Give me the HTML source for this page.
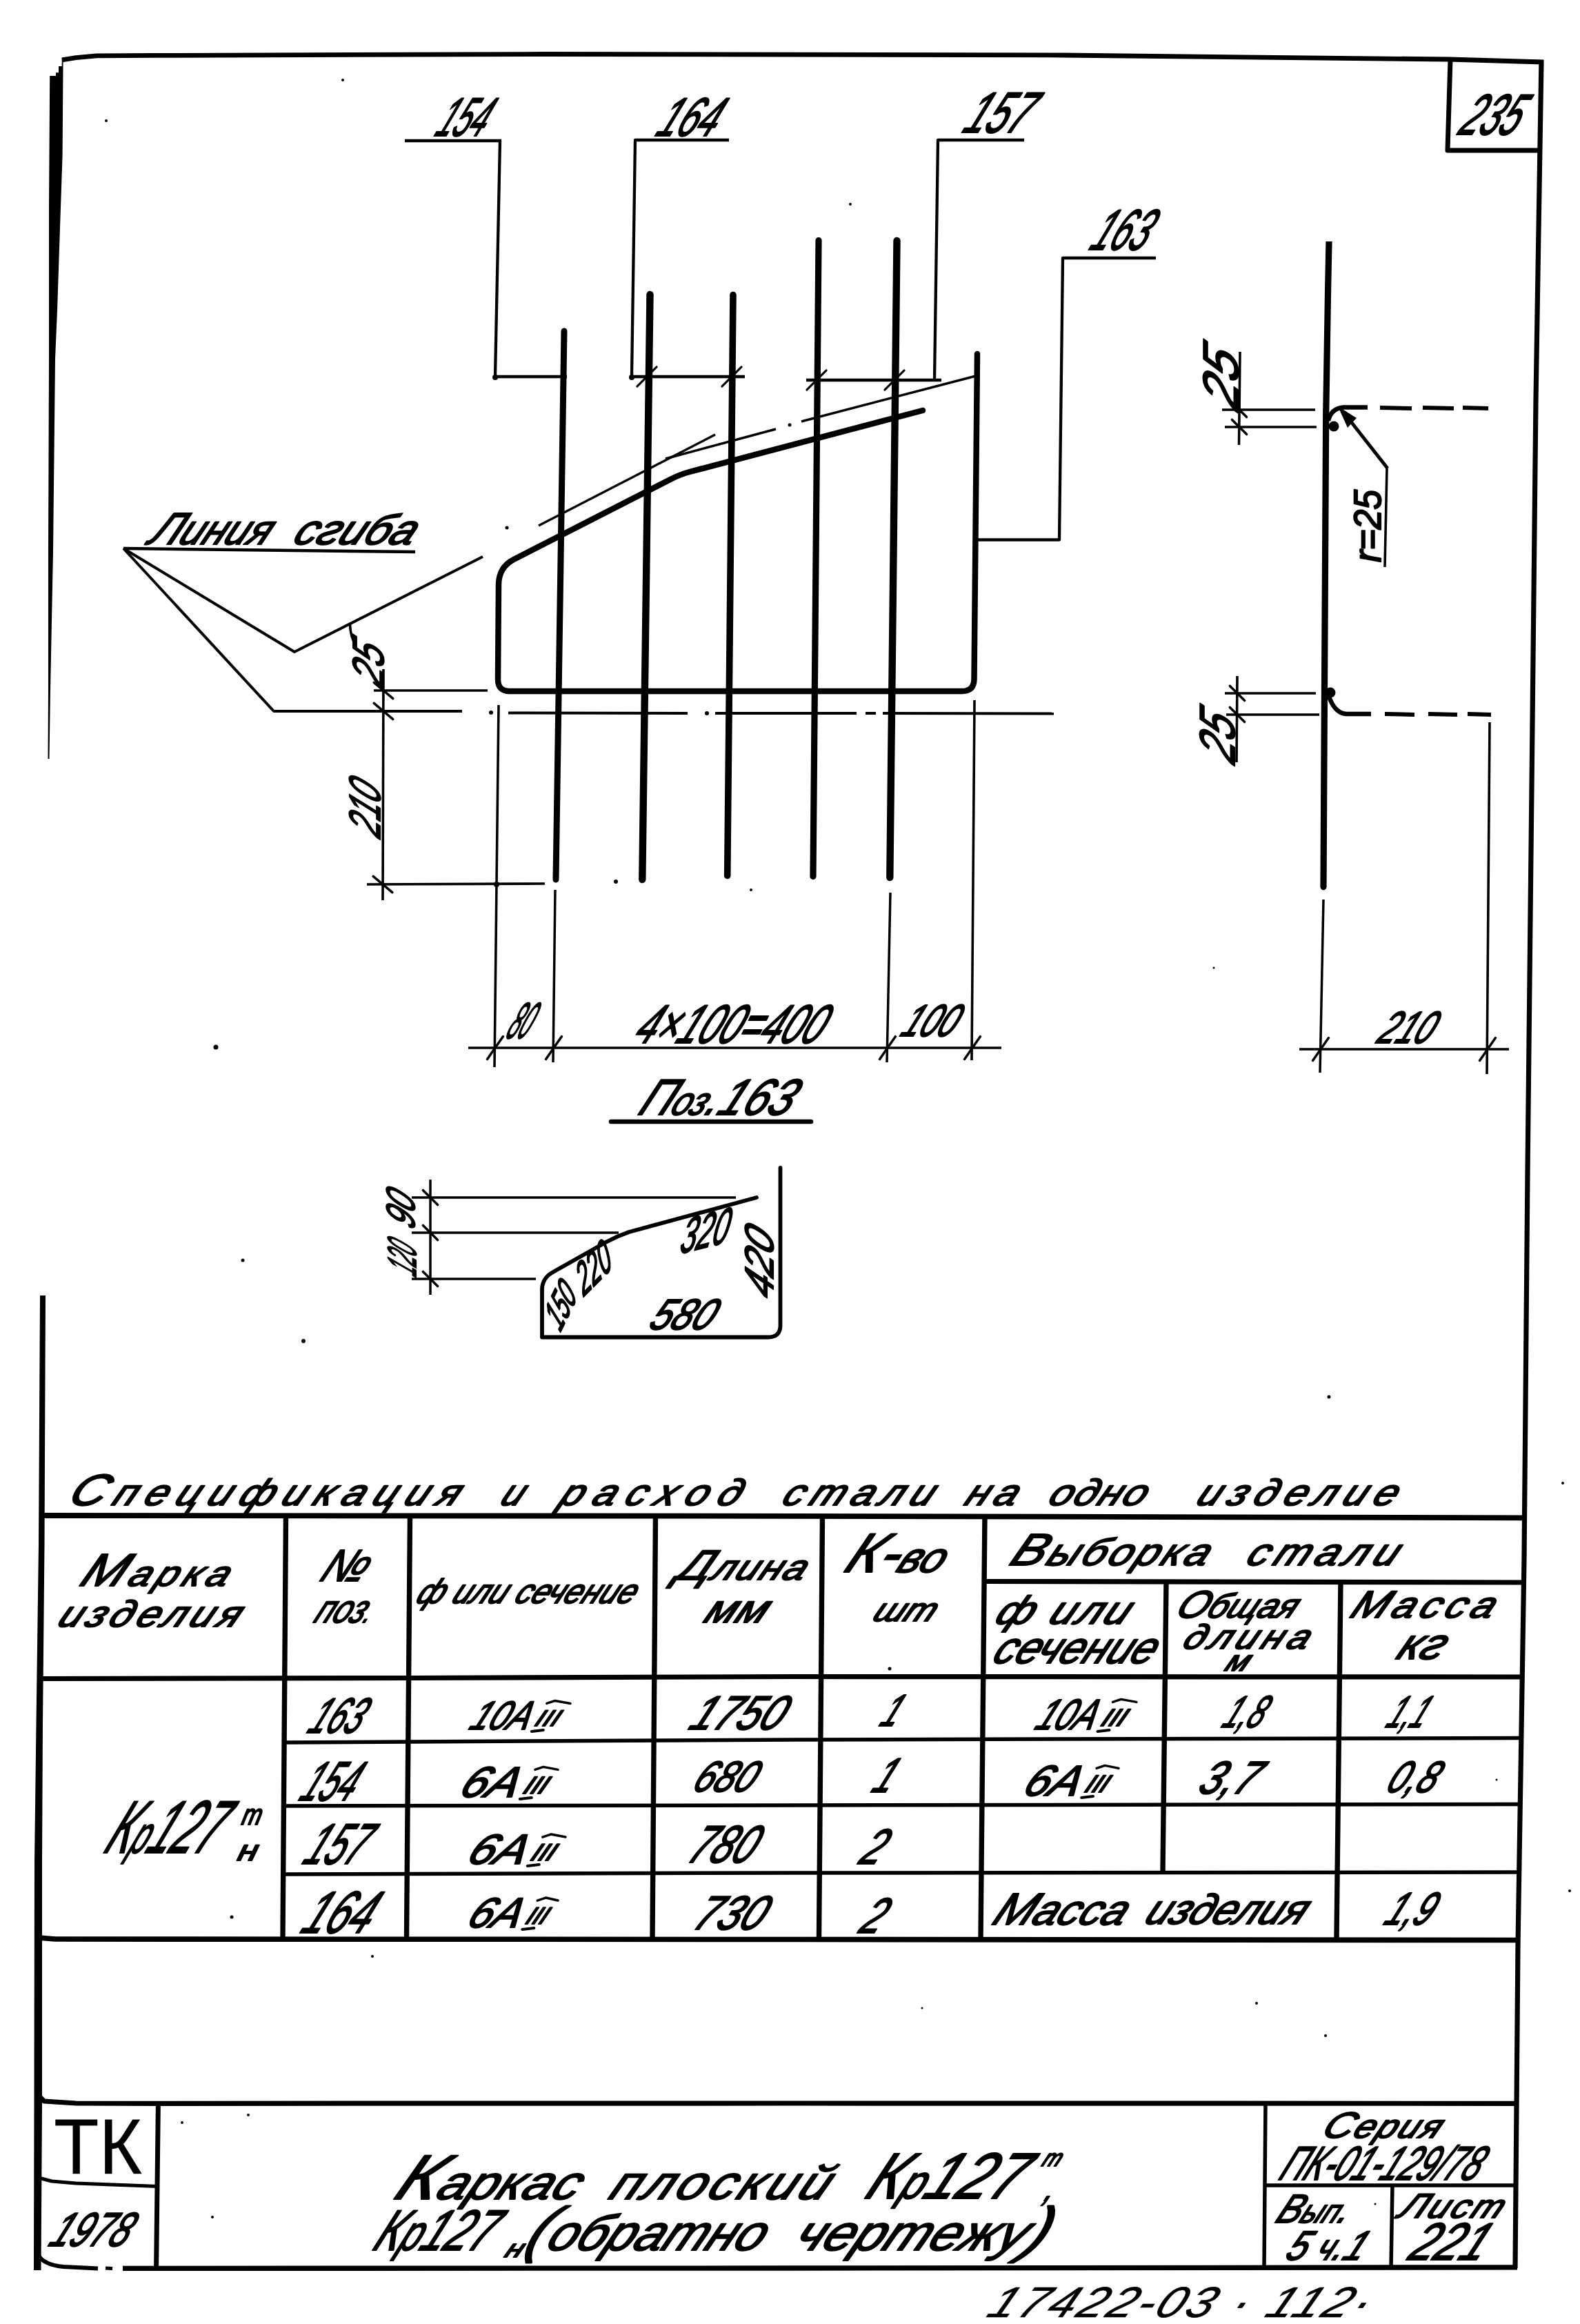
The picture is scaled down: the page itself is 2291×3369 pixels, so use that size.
<!DOCTYPE html>
<html lang="ru">
<head>
<meta charset="utf-8">
<title>Каркас плоский Кр127</title>
<style>
html,body{margin:0;padding:0;background:#fff;}
body{width:2291px;height:3369px;overflow:hidden;}
svg{display:block;filter:grayscale(1);}
svg polyline,svg path{fill:none;stroke:#000;}
.f{fill:#000;stroke:none;}
text{text-rendering:geometricPrecision;fill:#000;stroke:#000;stroke-width:2.2px;stroke-linejoin:round;white-space:pre;}
.t{font-family:"Liberation Sans",sans-serif;font-style:italic;}
.u{font-family:"Liberation Sans",sans-serif;font-style:normal;stroke-width:0.3px;}
.m{font-family:"Liberation Sans",sans-serif;font-style:italic;stroke-width:0.6px;}
</style>
</head>
<body>
<svg width="2291" height="3369" viewBox="0 0 2291 3369">
<polyline points="90,86.8 110,83.6 140,80.8 220,80.4 790,78.5 1540,80 2101,86 2238,90" stroke-width="6.8" stroke-linecap="butt" stroke-linejoin="round"/>
<polyline points="2235,87 2227,580 2221,1140 2215,1700 2210,2260 2201,2820 2197,3288" stroke-width="7.2" stroke-linecap="butt" stroke-linejoin="round"/>
<polygon class="f" points="89.7,84 91.6,84 90.6,225 87,330 83,450 80,520 77,800 73,1000 71.5,1100 69.5,1100 70,1000 70,800 71,520 71,300 72.2,110 81,110 81,105.2 85,105.2 85,96 89.7,96"/>
<polygon class="f" points="58,1878 66,1878 64.5,2240 62,2500 61,2700 61,3050 59.5,3291 49,3291 49.5,3050 50,2700 52.5,2500 56,2240"/>
<polyline points="178,3288.4 1150,3288 2200,3286.8" stroke-width="7.3" stroke-linecap="butt" stroke-linejoin="round"/>
<path d="M55,3268 Q62,3283 92,3286 L142,3288.5" stroke-width="6" stroke-linecap="butt" stroke-linejoin="round"/>
<polyline points="153,3288 163,3288.4" stroke-width="5" stroke-linecap="butt" stroke-linejoin="round"/>
<polyline points="56,3038 64,3046 110,3049 230,3049.3 1150,3049 2199,3049.3" stroke-width="7.2" stroke-linecap="butt" stroke-linejoin="round"/>
<polyline points="58,2197 1150,2197.8 2211,2200.3" stroke-width="7.8" stroke-linecap="butt" stroke-linejoin="round"/>
<polyline points="58,2433.5 600,2432.5 1150,2430.5 2207,2431" stroke-width="7.2" stroke-linecap="butt" stroke-linejoin="round"/>
<polyline points="56,2809 80,2811 1150,2811.5 2202,2812.5" stroke-width="7.6" stroke-linecap="butt" stroke-linejoin="round"/>
<polyline points="1427,2292.5 2209,2294" stroke-width="7.2" stroke-linecap="butt" stroke-linejoin="round"/>
<polyline points="414.5,2197 410,2810" stroke-width="7.4" stroke-linecap="butt" stroke-linejoin="round"/>
<polyline points="594.5,2197 589.5,2810" stroke-width="7.4" stroke-linecap="butt" stroke-linejoin="round"/>
<polyline points="950.5,2197 946,2810" stroke-width="7.4" stroke-linecap="butt" stroke-linejoin="round"/>
<polyline points="1192.5,2197 1187.5,2810" stroke-width="7.4" stroke-linecap="butt" stroke-linejoin="round"/>
<polyline points="1428,2197 1422,2810" stroke-width="7.4" stroke-linecap="butt" stroke-linejoin="round"/>
<polyline points="1691,2292 1686,2714" stroke-width="7.4" stroke-linecap="butt" stroke-linejoin="round"/>
<polyline points="1944,2292 1938,2810" stroke-width="7.4" stroke-linecap="butt" stroke-linejoin="round"/>
<polyline points="412,2526 1150,2522 2206,2519.5" stroke-width="5.5" stroke-linecap="butt" stroke-linejoin="round"/>
<polyline points="411,2618 1150,2617 2205,2615.5" stroke-width="5.5" stroke-linecap="butt" stroke-linejoin="round"/>
<polyline points="410,2717 1150,2715 2204,2714" stroke-width="5.5" stroke-linecap="butt" stroke-linejoin="round"/>
<polyline points="229.4,3049 226.6,3288" stroke-width="7" stroke-linecap="butt" stroke-linejoin="round"/>
<polyline points="56,3157 75,3162 110,3165 229,3169.5" stroke-width="5.2" stroke-linecap="butt" stroke-linejoin="round"/>
<polyline points="1835,3048 1833,3287" stroke-width="5.5" stroke-linecap="butt" stroke-linejoin="round"/>
<polyline points="1833,3168 2198,3168" stroke-width="5.5" stroke-linecap="butt" stroke-linejoin="round"/>
<polyline points="2019,3168 2017,3287" stroke-width="5.5" stroke-linecap="butt" stroke-linejoin="round"/>
<polyline points="2103,86 2099,218 2234,218" stroke-width="7" stroke-linecap="butt" stroke-linejoin="round"/>
<polyline points="818,480 806,1275" stroke-width="9" stroke-linecap="round" stroke-linejoin="round"/>
<polyline points="942.5,427 931.3,1275" stroke-width="10.4" stroke-linecap="round" stroke-linejoin="round"/>
<polyline points="1063,427.5 1054.7,1269.5" stroke-width="9.6" stroke-linecap="round" stroke-linejoin="round"/>
<polyline points="1187,348.5 1179,1270.5" stroke-width="9.2" stroke-linecap="round" stroke-linejoin="round"/>
<polyline points="1300.5,349 1290.3,1272" stroke-width="10.4" stroke-linecap="round" stroke-linejoin="round"/>
<path d="M1338,595 L1000,684 Q985,688 970,696 L745,811 Q723.5,822 723,847 L722,985 Q722,1002 739,1002 L1395,1002 Q1412,1002 1412.5,985 L1417,513" stroke-width="8.5" stroke-linecap="round" stroke-linejoin="round"/>
<polyline points="1927,350 1925.6,420 1922.7,600 1920.5,1000 1919,1286" stroke-width="9.2" stroke-linecap="butt" stroke-linejoin="round"/>
<circle cx="1919" cy="1286" r="4.4" class="f"/>
<circle cx="1934" cy="618" r="7.5" class="f"/>
<path d="M1926,610 Q1930,592 1948,590.5 L1983,590.5" stroke-width="6.5" stroke-linecap="butt" stroke-linejoin="round"/>
<circle cx="1929" cy="1004" r="7.5" class="f"/>
<path d="M1925,1004 Q1934,1034 1952,1035 L1988,1035" stroke-width="6.5" stroke-linecap="butt" stroke-linejoin="round"/>
<polyline points="2001,591 2047,592" stroke-width="6" stroke-linecap="butt" stroke-linejoin="round"/>
<polyline points="2063,591 2108,592" stroke-width="6" stroke-linecap="butt" stroke-linejoin="round"/>
<polyline points="2121,591 2158,592" stroke-width="6" stroke-linecap="butt" stroke-linejoin="round"/>
<polyline points="2008,1035 2051,1036" stroke-width="6" stroke-linecap="butt" stroke-linejoin="round"/>
<polyline points="2071,1035 2113,1036" stroke-width="6" stroke-linecap="butt" stroke-linejoin="round"/>
<polyline points="2128,1035 2162,1036" stroke-width="6" stroke-linecap="butt" stroke-linejoin="round"/>
<polyline points="587,204 727,204" stroke-width="4.3" stroke-linecap="butt" stroke-linejoin="round"/>
<polyline points="725,204 718,546 822,546" stroke-width="4.3" stroke-linecap="butt" stroke-linejoin="round"/>
<circle cx="718" cy="547" r="4" class="f"/>
<circle cx="818" cy="546" r="4" class="f"/>
<polyline points="1057,203 921,203 916,546 1080,546" stroke-width="4.3" stroke-linecap="butt" stroke-linejoin="round"/>
<circle cx="916" cy="547" r="4" class="f"/>
<polyline points="923.858,560.142 952.142,531.858" stroke-width="3" stroke-linecap="round" stroke-linejoin="round"/>
<polyline points="1046.86,560.142 1075.14,531.858" stroke-width="3" stroke-linecap="round" stroke-linejoin="round"/>
<polyline points="1485,203 1360,203 1355,551" stroke-width="4.3" stroke-linecap="butt" stroke-linejoin="round"/>
<polyline points="1169,551 1365,551" stroke-width="4.3" stroke-linecap="butt" stroke-linejoin="round"/>
<polyline points="1169.86,565.142 1198.14,536.858" stroke-width="3" stroke-linecap="round" stroke-linejoin="round"/>
<polyline points="1282.86,565.142 1311.14,536.858" stroke-width="3" stroke-linecap="round" stroke-linejoin="round"/>
<polyline points="1676,374 1541,374 1536,782.5 1417,782.5" stroke-width="4.3" stroke-linecap="butt" stroke-linejoin="round"/>
<polyline points="781,762 1037,630" stroke-width="3.4" stroke-linecap="butt" stroke-linejoin="round"/>
<polyline points="965,665 1125,622" stroke-width="3.4" stroke-linecap="butt" stroke-linejoin="round"/>
<circle cx="1145" cy="616" r="2.5" class="f"/>
<polyline points="1162,611 1415,545" stroke-width="3.4" stroke-linecap="butt" stroke-linejoin="round"/>
<polyline points="179,795 602,800" stroke-width="4.5" stroke-linecap="butt" stroke-linejoin="round"/>
<polyline points="179,795 427,945 700,807" stroke-width="4" stroke-linecap="butt" stroke-linejoin="round"/>
<polyline points="179,795 397,1031 670,1031" stroke-width="4" stroke-linecap="butt" stroke-linejoin="round"/>
<circle cx="712" cy="1033" r="3" class="f"/>
<polyline points="737,1033.5 997,1034" stroke-width="4" stroke-linecap="butt" stroke-linejoin="round"/>
<circle cx="1025" cy="1034" r="3" class="f"/>
<polyline points="1037,1034 1242,1034" stroke-width="4" stroke-linecap="butt" stroke-linejoin="round"/>
<polyline points="1255,1034 1270,1034" stroke-width="4" stroke-linecap="butt" stroke-linejoin="round"/>
<polyline points="1280,1034 1528,1034.5" stroke-width="4" stroke-linecap="butt" stroke-linejoin="round"/>
<polyline points="556,970 555,1305" stroke-width="3.6" stroke-linecap="butt" stroke-linejoin="round"/>
<polyline points="542,1001 707,1001" stroke-width="3.6" stroke-linecap="butt" stroke-linejoin="round"/>
<polyline points="532,1282 790,1281" stroke-width="3.6" stroke-linecap="butt" stroke-linejoin="round"/>
<polyline points="542.211,989.43 569.789,1012.57" stroke-width="3.5" stroke-linecap="round" stroke-linejoin="round"/>
<polyline points="542.211,1019.43 569.789,1042.57" stroke-width="3.5" stroke-linecap="round" stroke-linejoin="round"/>
<polyline points="541.211,1270.43 568.789,1293.57" stroke-width="3.5" stroke-linecap="round" stroke-linejoin="round"/>
<polyline points="723,1022 720,1282 717,1547" stroke-width="3.6" stroke-linecap="butt" stroke-linejoin="round"/>
<circle cx="720" cy="1282" r="4" class="f"/>
<polyline points="805,1290 802,1540" stroke-width="3.5" stroke-linecap="butt" stroke-linejoin="round"/>
<polyline points="1291,1294 1286,1540" stroke-width="3.5" stroke-linecap="butt" stroke-linejoin="round"/>
<polyline points="1413,1015 1409,1537" stroke-width="3.6" stroke-linecap="butt" stroke-linejoin="round"/>
<polyline points="679,1519 1452,1519" stroke-width="3.6" stroke-linecap="butt" stroke-linejoin="round"/>
<polyline points="706.528,1535.38 729.472,1502.62" stroke-width="3.5" stroke-linecap="round" stroke-linejoin="round"/>
<polyline points="791.528,1535.38 814.472,1502.62" stroke-width="3.5" stroke-linecap="round" stroke-linejoin="round"/>
<polyline points="1275.53,1535.38 1298.47,1502.62" stroke-width="3.5" stroke-linecap="round" stroke-linejoin="round"/>
<polyline points="1398.53,1535.38 1421.47,1502.62" stroke-width="3.5" stroke-linecap="round" stroke-linejoin="round"/>
<polyline points="1772,594 1907,594" stroke-width="3.6" stroke-linecap="butt" stroke-linejoin="round"/>
<polyline points="1776,619 1909,619" stroke-width="3.6" stroke-linecap="butt" stroke-linejoin="round"/>
<polyline points="1798,510 1796.5,645" stroke-width="3.6" stroke-linecap="butt" stroke-linejoin="round"/>
<polyline points="1786.39,583.393 1807.61,604.607" stroke-width="3.5" stroke-linecap="round" stroke-linejoin="round"/>
<polyline points="1786.39,608.393 1807.61,629.607" stroke-width="3.5" stroke-linecap="round" stroke-linejoin="round"/>
<polyline points="1776,1005 1908,1005" stroke-width="3.6" stroke-linecap="butt" stroke-linejoin="round"/>
<polyline points="1778,1036 1913,1036" stroke-width="3.6" stroke-linecap="butt" stroke-linejoin="round"/>
<polyline points="1794,980 1793,1105" stroke-width="3.6" stroke-linecap="butt" stroke-linejoin="round"/>
<polyline points="1783.39,994.393 1804.61,1015.61" stroke-width="3.5" stroke-linecap="round" stroke-linejoin="round"/>
<polyline points="1783.39,1025.39 1804.61,1046.61" stroke-width="3.5" stroke-linecap="round" stroke-linejoin="round"/>
<polyline points="1950,600 2012,679" stroke-width="5" stroke-linecap="butt" stroke-linejoin="round"/>
<polygon class="f" points="1940,589 1967,606 1954,620"/>
<polyline points="2011,679 2008,822" stroke-width="3.6" stroke-linecap="butt" stroke-linejoin="round"/>
<polyline points="2160,1047 2156,1557" stroke-width="3.6" stroke-linecap="butt" stroke-linejoin="round"/>
<polyline points="1919,1304 1914,1555" stroke-width="3.5" stroke-linecap="butt" stroke-linejoin="round"/>
<polyline points="1884,1521 2188,1521" stroke-width="3.6" stroke-linecap="butt" stroke-linejoin="round"/>
<polyline points="1903.53,1537.38 1926.47,1504.62" stroke-width="3.5" stroke-linecap="round" stroke-linejoin="round"/>
<polyline points="2145.53,1537.38 2168.47,1504.62" stroke-width="3.5" stroke-linecap="round" stroke-linejoin="round"/>
<polyline points="886,1626 1176,1626" stroke-width="6.5" stroke-linecap="round" stroke-linejoin="round"/>
<path d="M1131.5,1693 L1131.5,1922 Q1131,1938.5 1114,1938.5 L786,1938.5 L786,1868 Q787,1852 802,1844 L880,1800 Q895,1792 912,1786 L1097,1736" stroke-width="5.8" stroke-linecap="round" stroke-linejoin="round"/>
<polyline points="597,1736 1067,1736" stroke-width="3.5" stroke-linecap="butt" stroke-linejoin="round"/>
<polyline points="597,1787 897,1787" stroke-width="3.5" stroke-linecap="butt" stroke-linejoin="round"/>
<polyline points="597,1854 777,1854" stroke-width="3.5" stroke-linecap="butt" stroke-linejoin="round"/>
<polyline points="624,1710 624,1877" stroke-width="3.5" stroke-linecap="butt" stroke-linejoin="round"/>
<polyline points="613.393,1725.39 634.607,1746.61" stroke-width="3.5" stroke-linecap="round" stroke-linejoin="round"/>
<polyline points="613.393,1776.39 634.607,1797.61" stroke-width="3.5" stroke-linecap="round" stroke-linejoin="round"/>
<polyline points="613.393,1843.39 634.607,1864.61" stroke-width="3.5" stroke-linecap="round" stroke-linejoin="round"/>
<text class="t" transform="translate(628,197) skewX(-26)" font-size="79.1667" textLength="70.5067" lengthAdjust="spacingAndGlyphs" stroke-width="0.21">154</text>
<text class="t" transform="translate(948,197) skewX(-26)" font-size="79.1667" textLength="85.5067" lengthAdjust="spacingAndGlyphs" stroke-width="0.2">164</text>
<text class="t" transform="translate(1393,192) skewX(-26)" font-size="83.3333" textLength="92.2176" lengthAdjust="spacingAndGlyphs" stroke-width="0.2">157</text>
<text class="t" transform="translate(1577,362) skewX(-26)" font-size="83.3333" textLength="81.2176" lengthAdjust="spacingAndGlyphs" stroke-width="0.2">163</text>
<text class="t" transform="translate(2112,195) skewX(-26)" font-size="83.3333" textLength="84.2176" lengthAdjust="spacingAndGlyphs" stroke-width="0.2">235</text>
<text class="t" transform="translate(213,789) skewX(-26)" font-size="61.0" textLength="172.999" lengthAdjust="spacingAndGlyphs" stroke-width="0.2"><tspan font-size="65.3">Л</tspan><tspan font-size="61.0">иния</tspan></text>
<text class="t" transform="translate(422,789) skewX(-26)" font-size="61.0" textLength="173.999" lengthAdjust="spacingAndGlyphs" stroke-width="0.2"><tspan font-size="61.0">сгиба</tspan></text>
<text class="t" transform="translate(556,999) rotate(-90) skewX(-26)" font-size="63.8889" textLength="58" lengthAdjust="spacingAndGlyphs" stroke-width="1.2">25</text>
<path d="M507.5,905 Q508,922 515,934" stroke-width="3.6" stroke-linecap="round" stroke-linejoin="round"/>
<text class="t" transform="translate(551,1217) rotate(-90) skewX(-26)" font-size="63.8889" textLength="75" lengthAdjust="spacingAndGlyphs" stroke-width="1.2">210</text>
<text class="t" transform="translate(731,1505) skewX(-26)" font-size="73.6111" textLength="32.2255" lengthAdjust="spacingAndGlyphs" stroke-width="1">80</text>
<text class="t" transform="translate(916,1512) skewX(-26)" font-size="79.1667" textLength="270.507" lengthAdjust="spacingAndGlyphs" stroke-width="0.2">4×100=400</text>
<text class="t" transform="translate(1303,1502) skewX(-26)" font-size="65.2778" textLength="77.8038" lengthAdjust="spacingAndGlyphs" stroke-width="0.53">100</text>
<text class="t" transform="translate(923,1616) skewX(-26)" font-size="57.1" textLength="220.155" lengthAdjust="spacingAndGlyphs" stroke-width="0.71"><tspan font-size="73.6">П</tspan><tspan font-size="57.1">оз</tspan><tspan font-size="73.6">.163</tspan></text>
<text class="t" transform="translate(1795,598) rotate(-90) skewX(-26)" font-size="72.2222" textLength="82" lengthAdjust="spacingAndGlyphs" stroke-width="1.2">25</text>
<text class="t" transform="translate(2002,815) rotate(-90)" font-size="55.5556" textLength="105" lengthAdjust="spacingAndGlyphs" stroke-width="1.2">r=25</text>
<text class="t" transform="translate(1790,1110) rotate(-90) skewX(-26)" font-size="72.2222" textLength="66" lengthAdjust="spacingAndGlyphs" stroke-width="1.2">25</text>
<text class="t" transform="translate(1994,1512) skewX(-26)" font-size="65.2778" textLength="77.8038" lengthAdjust="spacingAndGlyphs" stroke-width="0.53">210</text>
<text class="t" transform="translate(601,1784) rotate(-90) skewX(-26)" font-size="58.3333" textLength="48" lengthAdjust="spacingAndGlyphs" stroke-width="1.2">90</text>
<text class="t" transform="translate(603,1853) rotate(-90) skewX(-26)" font-size="58.3333" textLength="44" lengthAdjust="spacingAndGlyphs" stroke-width="1.2">120</text>
<text class="t" transform="translate(984,1818) rotate(-14) skewX(-26)" font-size="68" textLength="72" lengthAdjust="spacingAndGlyphs" stroke-width="0.59">320</text>
<text class="t" transform="translate(846,1880) rotate(-45) skewX(-26)" font-size="58" textLength="62" lengthAdjust="spacingAndGlyphs" stroke-width="1.22">220</text>
<text class="t" transform="translate(812,1932) rotate(-64) skewX(-26)" font-size="50" textLength="58" lengthAdjust="spacingAndGlyphs" stroke-width="1.62">150</text>
<text class="t" transform="translate(938,1927) skewX(-26)" font-size="62.5" textLength="90.6632" lengthAdjust="spacingAndGlyphs" stroke-width="0.3">580</text>
<text class="t" transform="translate(1121,1886) rotate(-90) skewX(-26)" font-size="58.3333" textLength="97" lengthAdjust="spacingAndGlyphs" stroke-width="1.2">420</text>
<text class="t" transform="translate(96,2182) skewX(-26)" font-size="53.3" textLength="576.874" lengthAdjust="spacingAndGlyphs" stroke-width="0.4" letter-spacing="11.01"><tspan font-size="63.9">С</tspan><tspan font-size="53.3">пецификация</tspan></text>
<text class="t" transform="translate(723,2182) skewX(-26)" font-size="53.3" textLength="30.8744" lengthAdjust="spacingAndGlyphs" stroke-width="0.58"><tspan font-size="53.3">и</tspan></text>
<text class="t" transform="translate(808,2182) skewX(-26)" font-size="53.3" textLength="274.874" lengthAdjust="spacingAndGlyphs" stroke-width="0.4" letter-spacing="12.57"><tspan font-size="53.3">расход</tspan></text>
<text class="t" transform="translate(1131,2182) skewX(-26)" font-size="53.3" textLength="226.874" lengthAdjust="spacingAndGlyphs" stroke-width="0.4" letter-spacing="8.66"><tspan font-size="53.3">стали</tspan></text>
<text class="t" transform="translate(1396,2182) skewX(-26)" font-size="53.3" textLength="81.8744" lengthAdjust="spacingAndGlyphs" stroke-width="0.4" letter-spacing="7.05"><tspan font-size="53.3">на</tspan></text>
<text class="t" transform="translate(1517,2182) skewX(-26)" font-size="53.3" textLength="141.874" lengthAdjust="spacingAndGlyphs" stroke-width="0.4" letter-spacing="2.13"><tspan font-size="53.3">одно</tspan></text>
<text class="t" transform="translate(1732,2182) skewX(-26)" font-size="53.3" textLength="298.874" lengthAdjust="spacingAndGlyphs" stroke-width="0.4" letter-spacing="9.46"><tspan font-size="53.3">изделие</tspan></text>
<text class="t" transform="translate(113,2299) skewX(-26)" font-size="51.4" textLength="220.343" lengthAdjust="spacingAndGlyphs" stroke-width="0.56" letter-spacing="6.22"><tspan font-size="66.7">М</tspan><tspan font-size="51.4">арка</tspan></text>
<text class="t" transform="translate(81,2358) skewX(-26)" font-size="53.3" textLength="267.874" lengthAdjust="spacingAndGlyphs" stroke-width="0.4" letter-spacing="5.67"><tspan font-size="53.3">изделия</tspan></text>
<text class="t" transform="translate(461,2292) skewX(-26)" font-size="65.2778" textLength="64.8038" lengthAdjust="spacingAndGlyphs" stroke-width="0.2">№</text>
<text class="t" transform="translate(453,2352) skewX(-26)" font-size="57.1" textLength="80.9369" lengthAdjust="spacingAndGlyphs" stroke-width="0.87"><tspan font-size="57.1">поз</tspan><tspan font-size="41.7">.</tspan></text>
<text class="t" transform="translate(601,2324) skewX(-26)" font-size="49.5" textLength="315.812" lengthAdjust="spacingAndGlyphs" stroke-width="1.13"><tspan font-size="49.5">ф или сечение</tspan></text>
<text class="t" transform="translate(978,2290) skewX(-26)" font-size="51.4" textLength="187.343" lengthAdjust="spacingAndGlyphs" stroke-width="0.56" letter-spacing="1.95"><tspan font-size="61.1">Д</tspan><tspan font-size="51.4">лина</tspan></text>
<text class="t" transform="translate(1018,2352) skewX(-26)" font-size="57.1" textLength="88.9369" lengthAdjust="spacingAndGlyphs" stroke-width="0.2" letter-spacing="0.53"><tspan font-size="57.1">мм</tspan></text>
<text class="t" transform="translate(1221,2279) skewX(-26)" font-size="61.0" textLength="141.999" lengthAdjust="spacingAndGlyphs" stroke-width="0.2"><tspan font-size="80.6">К-</tspan><tspan font-size="61.0">во</tspan></text>
<text class="t" transform="translate(1263,2350) skewX(-26)" font-size="47.6" textLength="88.2807" lengthAdjust="spacingAndGlyphs" stroke-width="0.9"><tspan font-size="47.6">шт</tspan></text>
<text class="t" transform="translate(1461,2269) skewX(-26)" font-size="55.2" textLength="290.406" lengthAdjust="spacingAndGlyphs" stroke-width="0.23" letter-spacing="3.69"><tspan font-size="65.3">В</tspan><tspan font-size="55.2">ыборка</tspan></text>
<text class="t" transform="translate(1804,2269) skewX(-26)" font-size="55.2" textLength="225.406" lengthAdjust="spacingAndGlyphs" stroke-width="0.23" letter-spacing="7.26"><tspan font-size="55.2">стали</tspan></text>
<text class="t" transform="translate(1440,2354) skewX(-26)" font-size="57.1" textLength="194.937" lengthAdjust="spacingAndGlyphs" stroke-width="0.2" letter-spacing="2.93"><tspan font-size="57.1">ф или</tspan></text>
<text class="t" transform="translate(1436,2411) skewX(-26)" font-size="64.8" textLength="233.062" lengthAdjust="spacingAndGlyphs" stroke-width="0.2"><tspan font-size="64.8">сечение</tspan></text>
<text class="t" transform="translate(1702,2345) skewX(-26)" font-size="49.5" textLength="172.812" lengthAdjust="spacingAndGlyphs" stroke-width="0.92"><tspan font-size="55.6">О</tspan><tspan font-size="49.5">бщая</tspan></text>
<text class="t" transform="translate(1712,2390) skewX(-26)" font-size="49.5" textLength="187.812" lengthAdjust="spacingAndGlyphs" stroke-width="0.73" letter-spacing="6.01"><tspan font-size="49.5">длина</tspan></text>
<text class="t" transform="translate(1774,2422) skewX(-26)" font-size="41.9" textLength="32.687" lengthAdjust="spacingAndGlyphs" stroke-width="1.35"><tspan font-size="41.9">м</tspan></text>
<text class="t" transform="translate(1955,2345) skewX(-26)" font-size="53.3" textLength="212.874" lengthAdjust="spacingAndGlyphs" stroke-width="0.4" letter-spacing="6.23"><tspan font-size="55.6">М</tspan><tspan font-size="53.3">асса</tspan></text>
<text class="t" transform="translate(2022,2405) skewX(-26)" font-size="62.9" textLength="65.5305" lengthAdjust="spacingAndGlyphs" stroke-width="0.2"><tspan font-size="62.9">кг</tspan></text>
<text class="t" transform="translate(443,2512) skewX(-26)" font-size="72.2222" textLength="75.6552" lengthAdjust="spacingAndGlyphs" stroke-width="0.33">163</text>
<text class="t" transform="translate(431,2610) skewX(-26)" font-size="80.5556" textLength="77.077" lengthAdjust="spacingAndGlyphs" stroke-width="0.2">154</text>
<text class="t" transform="translate(436,2702) skewX(-26)" font-size="83.3333" textLength="86.2176" lengthAdjust="spacingAndGlyphs" stroke-width="0.2">157</text>
<text class="t" transform="translate(433,2802) skewX(-26)" font-size="86.1111" textLength="98.3582" lengthAdjust="spacingAndGlyphs" stroke-width="0.2">164</text>
<text class="t" transform="translate(678,2507) skewX(-26)" font-size="58.3333" textLength="85.7923" lengthAdjust="spacingAndGlyphs" stroke-width="0.72">10А</text>
<text class="t" transform="translate(773.84,2501.96) skewX(-26)" font-size="32.6667" textLength="34.0533" lengthAdjust="spacingAndGlyphs" stroke-width="2.18" letter-spacing="1.06">III</text>
<polyline points="792.84,2469.44 804.84,2465.44 827,2469.44" stroke-width="3.5" stroke-linecap="round" stroke-linejoin="round"/>
<polyline points="770.84,2510 787.84,2508" stroke-width="4" stroke-linecap="round" stroke-linejoin="round"/>
<text class="t" transform="translate(663,2605) skewX(-26)" font-size="62.5" textLength="82.4632" lengthAdjust="spacingAndGlyphs" stroke-width="0.2">6А</text>
<text class="t" transform="translate(756.8,2599.6) skewX(-26)" font-size="35" textLength="32.3714" lengthAdjust="spacingAndGlyphs" stroke-width="2">III</text>
<polyline points="775.8,2565.4 787.8,2561.4 809,2565.4" stroke-width="3.5" stroke-linecap="round" stroke-linejoin="round"/>
<polyline points="753.8,2608 770.8,2606" stroke-width="4" stroke-linecap="round" stroke-linejoin="round"/>
<text class="t" transform="translate(674,2702) skewX(-26)" font-size="61.1111" textLength="82.8929" lengthAdjust="spacingAndGlyphs" stroke-width="0.2">6А</text>
<text class="t" transform="translate(767.8,2696.72) skewX(-26)" font-size="34.2222" textLength="32.612" lengthAdjust="spacingAndGlyphs" stroke-width="2.05" letter-spacing="0.20">III</text>
<polyline points="786.8,2663.08 798.8,2659.08 820,2663.08" stroke-width="3.5" stroke-linecap="round" stroke-linejoin="round"/>
<polyline points="764.8,2705 781.8,2703" stroke-width="4" stroke-linecap="round" stroke-linejoin="round"/>
<text class="t" transform="translate(674,2794) skewX(-26)" font-size="61.1111" textLength="75.4129" lengthAdjust="spacingAndGlyphs" stroke-width="0.2">6А</text>
<text class="t" transform="translate(760.32,2788.72) skewX(-26)" font-size="34.2222" textLength="29.092" lengthAdjust="spacingAndGlyphs" stroke-width="2.2">III</text>
<polyline points="779.32,2755.08 791.32,2751.08 809,2755.08" stroke-width="3.5" stroke-linecap="round" stroke-linejoin="round"/>
<polyline points="757.32,2797 774.32,2795" stroke-width="4" stroke-linecap="round" stroke-linejoin="round"/>
<text class="t" transform="translate(996,2507) skewX(-26)" font-size="69.4444" textLength="133.515" lengthAdjust="spacingAndGlyphs" stroke-width="0.2">1750</text>
<text class="t" transform="translate(1001,2597) skewX(-26)" font-size="62.5" textLength="87.6632" lengthAdjust="spacingAndGlyphs" stroke-width="0.38">680</text>
<text class="t" transform="translate(993,2700) skewX(-26)" font-size="76.3889" textLength="94.3661" lengthAdjust="spacingAndGlyphs" stroke-width="0.2">780</text>
<text class="t" transform="translate(1001,2797) skewX(-26)" font-size="69.4444" textLength="100.515" lengthAdjust="spacingAndGlyphs" stroke-width="0.2">730</text>
<text class="t" transform="translate(1273,2502) skewX(-26)" font-size="65.2778" textLength="24.8038" lengthAdjust="spacingAndGlyphs" stroke-width="0.62">1</text>
<text class="t" transform="translate(1261,2598) skewX(-26)" font-size="70.8333" textLength="28.0849" lengthAdjust="spacingAndGlyphs" stroke-width="0.2">1</text>
<text class="t" transform="translate(1243,2702) skewX(-26)" font-size="72.2222" textLength="30.6552" lengthAdjust="spacingAndGlyphs" stroke-width="0.2">2</text>
<text class="t" transform="translate(1243,2802) skewX(-26)" font-size="72.2222" textLength="30.6552" lengthAdjust="spacingAndGlyphs" stroke-width="0.2">2</text>
<text class="t" transform="translate(1498,2507) skewX(-26)" font-size="62.5" textLength="85.1832" lengthAdjust="spacingAndGlyphs" stroke-width="0.58">10А</text>
<text class="t" transform="translate(1594.52,2501.6) skewX(-26)" font-size="35" textLength="33.6514" lengthAdjust="spacingAndGlyphs" stroke-width="1.98" letter-spacing="0.29">III</text>
<polyline points="1613.52,2467.4 1625.52,2463.4 1648,2467.4" stroke-width="3.5" stroke-linecap="round" stroke-linejoin="round"/>
<polyline points="1591.52,2510 1608.52,2508" stroke-width="4" stroke-linecap="round" stroke-linejoin="round"/>
<text class="t" transform="translate(1480,2603) skewX(-26)" font-size="62.5" textLength="79.7432" lengthAdjust="spacingAndGlyphs" stroke-width="0.2">6А</text>
<text class="t" transform="translate(1571.08,2597.6) skewX(-26)" font-size="35" textLength="31.0914" lengthAdjust="spacingAndGlyphs" stroke-width="2.06">III</text>
<polyline points="1590.08,2563.4 1602.08,2559.4 1622,2563.4" stroke-width="3.5" stroke-linecap="round" stroke-linejoin="round"/>
<polyline points="1568.08,2606 1585.08,2604" stroke-width="4" stroke-linecap="round" stroke-linejoin="round"/>
<text class="t" transform="translate(1769,2504) skewX(-26)" font-size="65.2778" textLength="57.8038" lengthAdjust="spacingAndGlyphs" stroke-width="0.75">1,8</text>
<text class="t" transform="translate(1734,2600) skewX(-26)" font-size="66.6667" textLength="82.3741" lengthAdjust="spacingAndGlyphs" stroke-width="0.2">3,7</text>
<text class="t" transform="translate(2007,2504) skewX(-26)" font-size="65.2778" textLength="54.8038" lengthAdjust="spacingAndGlyphs" stroke-width="0.85">1,1</text>
<text class="t" transform="translate(2007,2598) skewX(-26)" font-size="63.8889" textLength="70.2335" lengthAdjust="spacingAndGlyphs" stroke-width="0.41">0,8</text>
<text class="t" transform="translate(2004,2790) skewX(-26)" font-size="66.6667" textLength="67.3741" lengthAdjust="spacingAndGlyphs" stroke-width="0.4">1,9</text>
<text class="t" transform="translate(1436,2790) skewX(-26)" font-size="61.0" textLength="190.999" lengthAdjust="spacingAndGlyphs" stroke-width="0.2"><tspan font-size="65.3">М</tspan><tspan font-size="61.0">асса</tspan></text>
<text class="t" transform="translate(1657,2789) skewX(-26)" font-size="61.0" textLength="229.999" lengthAdjust="spacingAndGlyphs" stroke-width="0.2"><tspan font-size="61.0">изделия</tspan></text>
<text class="t" transform="translate(148,2686) skewX(-26)" font-size="76.2" textLength="161.436" lengthAdjust="spacingAndGlyphs" stroke-width="0.29"><tspan font-size="108.3">К</tspan><tspan font-size="76.2">р</tspan><tspan font-size="108.3">127</tspan></text>
<text class="t" transform="translate(349,2645) skewX(-14)" font-size="42" textLength="28" lengthAdjust="spacingAndGlyphs" stroke-width="2">т</text>
<text class="t" transform="translate(343,2697) skewX(-14)" font-size="42" textLength="28" lengthAdjust="spacingAndGlyphs" stroke-width="2">н</text>
<text class="u" transform="translate(78,3151)" font-size="113.889" textLength="128" lengthAdjust="spacingAndGlyphs" stroke-width="0.2">ТК</text>
<text class="t" transform="translate(68,3256) skewX(-26)" font-size="69.4444" textLength="113.515" lengthAdjust="spacingAndGlyphs" stroke-width="0.2">1978</text>
<text class="t" transform="translate(568,3188) skewX(-26)" font-size="68.6" textLength="266.124" lengthAdjust="spacingAndGlyphs" stroke-width="0.2" letter-spacing="0.42"><tspan font-size="91.7">К</tspan><tspan font-size="68.6">аркас</tspan></text>
<text class="t" transform="translate(880,3188) skewX(-26)" font-size="68.6" textLength="320.124" lengthAdjust="spacingAndGlyphs" stroke-width="0.2" letter-spacing="4.05"><tspan font-size="68.6">плоский</tspan></text>
<text class="t" transform="translate(1251,3187) skewX(-26)" font-size="68.6" textLength="223.124" lengthAdjust="spacingAndGlyphs" stroke-width="0.2"><tspan font-size="94.4">К</tspan><tspan font-size="68.6">р</tspan><tspan font-size="94.4">127</tspan></text>
<text class="t" transform="translate(1509,3140) skewX(-26)" font-size="34" textLength="26" lengthAdjust="spacingAndGlyphs" stroke-width="1.6">т</text>
<text class="t" transform="translate(1512,3190) skewX(-26)" font-size="56" textLength="12" lengthAdjust="spacingAndGlyphs" stroke-width="1.03">,</text>
<text class="t" transform="translate(538,3262) skewX(-26)" font-size="72.4" textLength="169.874" lengthAdjust="spacingAndGlyphs" stroke-width="0.2"><tspan font-size="83.3">К</tspan><tspan font-size="72.4">р</tspan><tspan font-size="83.3">127</tspan></text>
<text class="t" transform="translate(730,3272) skewX(-26)" font-size="36" textLength="24" lengthAdjust="spacingAndGlyphs" stroke-width="1.6">н</text>
<text class="t" transform="translate(758,3262) skewX(-26)" font-size="72.4" textLength="343.187" lengthAdjust="spacingAndGlyphs" stroke-width="0.2"><tspan font-size="88.9">(</tspan><tspan font-size="72.4">обратно</tspan></text>
<text class="t" transform="translate(1147,3262) skewX(-26)" font-size="72.4" textLength="364.999" lengthAdjust="spacingAndGlyphs" stroke-width="0.2"><tspan font-size="72.4">чертежу</tspan><tspan font-size="88.9">)</tspan></text>
<text class="t" transform="translate(1914,3099) skewX(-26)" font-size="47.6" textLength="172.281" lengthAdjust="spacingAndGlyphs" stroke-width="0.89" letter-spacing="2.17"><tspan font-size="52.8">С</tspan><tspan font-size="47.6">ерия</tspan></text>
<text class="t" transform="translate(1852,3160) skewX(-26)" font-size="57.1" textLength="288.561" lengthAdjust="spacingAndGlyphs" stroke-width="1.19"><tspan font-size="69.4">ПК-01-129/78</tspan></text>
<text class="t" transform="translate(1847,3222) skewX(-26)" font-size="47.6" textLength="104.312" lengthAdjust="spacingAndGlyphs" stroke-width="1.36"><tspan font-size="58.3">В</tspan><tspan font-size="47.6">ып</tspan><tspan font-size="58.3">.</tspan></text>
<text class="t" transform="translate(1861,3276) skewX(-26)" font-size="53.3" textLength="111.843" lengthAdjust="spacingAndGlyphs" stroke-width="0.96"><tspan font-size="59.7">5 </tspan><tspan font-size="53.3">ч</tspan><tspan font-size="59.7">.1</tspan></text>
<text class="t" transform="translate(2025,3215) skewX(-26)" font-size="47.6" textLength="152.281" lengthAdjust="spacingAndGlyphs" stroke-width="0.89" letter-spacing="2.93"><tspan font-size="50.0">Л</tspan><tspan font-size="47.6">ист</tspan></text>
<text class="t" transform="translate(2039,3276) skewX(-26)" font-size="57.1" textLength="108.218" lengthAdjust="spacingAndGlyphs" stroke-width="0.75"><tspan font-size="76.4">221</tspan></text>
<text class="t m" transform="translate(1428,3359) skewX(-26)" font-size="62.5" textLength="554.663" lengthAdjust="spacingAndGlyphs" stroke-width="0.2" letter-spacing="3.68">17422-03 · 112·</text>
<circle cx="154" cy="175" r="2" class="f"/>
<circle cx="497" cy="116" r="2" class="f"/>
<circle cx="313" cy="1518" r="3.5" class="f"/>
<circle cx="440" cy="1944" r="3" class="f"/>
<circle cx="352" cy="1827" r="2.5" class="f"/>
<circle cx="735" cy="765" r="2.5" class="f"/>
<circle cx="1233" cy="296" r="2" class="f"/>
<circle cx="893" cy="1278" r="3" class="f"/>
<circle cx="1089" cy="1290" r="2" class="f"/>
<circle cx="1760" cy="1403" r="1.5" class="f"/>
<circle cx="1927" cy="2025" r="2.5" class="f"/>
<circle cx="2266" cy="2150" r="2" class="f"/>
<circle cx="1290" cy="2419" r="2.5" class="f"/>
<circle cx="336" cy="2779" r="2.5" class="f"/>
<circle cx="2276" cy="2741" r="2" class="f"/>
<circle cx="540" cy="2836" r="2" class="f"/>
<circle cx="1337" cy="2911" r="1.5" class="f"/>
<circle cx="1822" cy="2904" r="2" class="f"/>
<circle cx="1922" cy="2951" r="2" class="f"/>
<circle cx="264" cy="3077" r="2" class="f"/>
<circle cx="360" cy="3066" r="2" class="f"/>
<circle cx="308" cy="3214" r="2" class="f"/>
<circle cx="1994" cy="3195" r="1.5" class="f"/>
<circle cx="2170" cy="2580" r="1.5" class="f"/>
</svg>
</body>
</html>
